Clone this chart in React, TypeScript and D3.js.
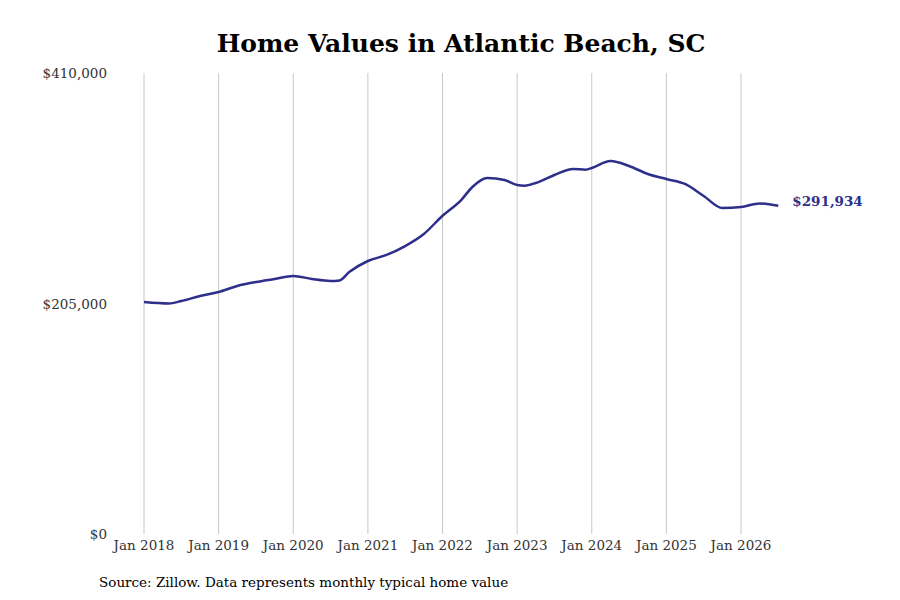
import * as d3 from "d3";

const dates = [2018.0, 2018.33, 2018.5, 2018.75, 2019.0, 2019.25, 2019.5, 2019.75, 2020.0, 2020.25, 2020.5, 2020.62, 2020.75, 2021.0, 2021.25, 2021.5, 2021.75, 2022.0, 2022.25, 2022.4, 2022.6, 2022.83, 2023.0, 2023.1, 2023.25, 2023.5, 2023.75, 2023.92, 2024.0, 2024.25, 2024.5, 2024.75, 2025.0, 2025.25, 2025.5, 2025.75, 2026.0, 2026.25, 2026.5];
const values = [206300, 205000, 207200, 211700, 215200, 220600, 224100, 226800, 229500, 226800, 225000, 225500, 233000, 242800, 248200, 256100, 266800, 283000, 297000, 308600, 316600, 314800, 310400, 309800, 312200, 319300, 324600, 324000, 325500, 331700, 327300, 320200, 315700, 311300, 300600, 289900, 290800, 294000, 291934];
const yearTicks = [2018, 2019, 2020, 2021, 2022, 2023, 2024, 2025, 2026];
const yTicks = [0, 205000, 410000];

export default function App() {
  const x = d3.scaleLinear().domain([2018, 2026]).range([144, 741]);
  const y = d3.scaleLinear().domain([0, 410000]).range([534, 73]);
  const pts = dates.map((d, i) => [d, values[i]] as [number, number]);
  const path = d3.line<[number, number]>().x(d => x(d[0])).y(d => y(d[1])).curve(d3.curveMonotoneX)(pts) || "";
  const last = pts[pts.length - 1];
  const fmt = (v: number) => "$" + d3.format(",")(Math.round(v));
  return (
    <svg width={900} height={600} style={{ position: "absolute", left: 0, top: 0, fontFamily: "DejaVu Serif, serif" }}>
      <rect width={900} height={600} fill="#fff" />
      <text x={461} y={52} textAnchor="middle" fontSize={25} fontWeight="bold" fill="#000">Home Values in Atlantic Beach, SC</text>
      {yearTicks.map(t => (
        <g key={t}>
          <line x1={x(t)} x2={x(t)} y1={73} y2={534} stroke="#c8c8c8" strokeWidth={1} />
          <text x={x(t)} y={550} textAnchor="middle" fontSize={13.5} fill="#333">Jan {t}</text>
        </g>
      ))}
      {yTicks.map(t => (
        <text key={t} x={107} y={y(t) + 5} textAnchor="end" fontSize={13.5} fill="#333">{fmt(t)}</text>
      ))}
      <path d={path} fill="none" stroke="#2e2e8b" strokeWidth={2.5} />
      <text x={x(last[0]) + 14} y={y(last[1])} fontSize={13.5} fontWeight="bold" fill="#2e2e8b">{fmt(last[1])}</text>
      <text x={99} y={587} fontSize={13.5} fill="#000">Source: Zillow. Data represents monthly typical home value</text>
    </svg>
  );
}
